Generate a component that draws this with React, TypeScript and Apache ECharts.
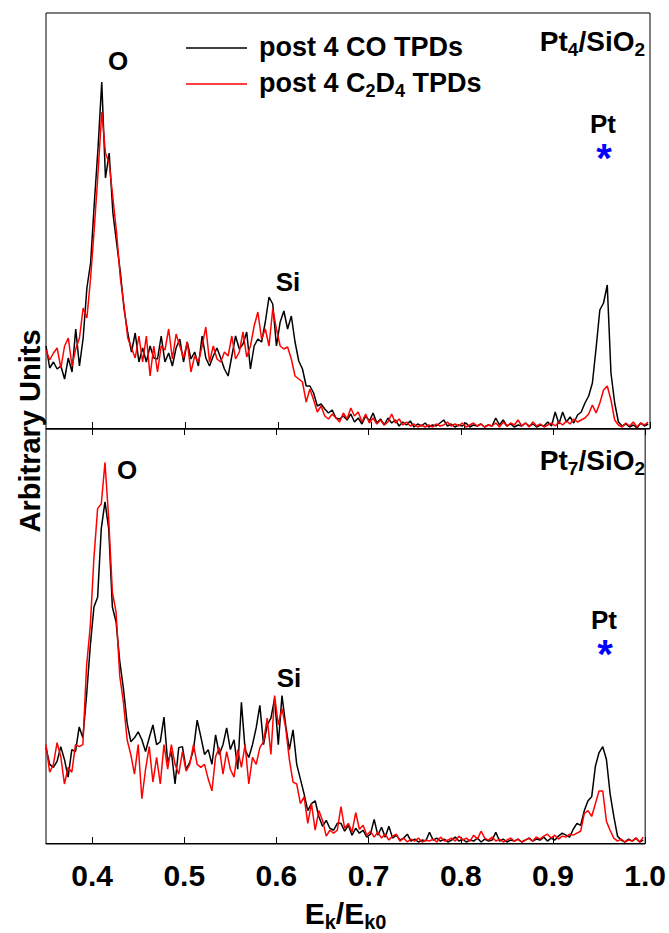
import React, { useEffect, useRef } from "react";
import * as echarts from "echarts";

const X_START = 0.35;
const X_STEP = 0.004;
const X_TICKS = [0.4, 0.5, 0.6, 0.7, 0.8, 0.9, 1.0];
const SERIES_NAMES = ["post 4 CO TPDs", "post 4 C2D4 TPDs"];

// Pt4/SiO2 panel (arbitrary units)
const topCO = [
  82,60,66,59,62,49,70,56,99,62,90,140,165,225,280,346,250,275,215,185,156,119,95,76,95,66,80,66,82,70,69,92,66,75,62,80,
  89,66,86,69,76,62,92,70,62,72,80,70,59,52,72,92,79,84,96,59,82,89,86,106,131,124,82,106,117,99,112,86,67,59,42,42,35,22,24,19,15,18,10,9,
  12,8,14,6,10,4,12,7,15,5,9,3,10,5,8,2,6,3,7,1,4,2,5,1,3,2,5,8,2,4,1,3,2,5,1,3,2,4,1,3,2,10,3,8,2,4,1,3,2,5,2,4,1,3,2,6,2,16,4,16,6,
  11,5,13,16,25,32,45,80,118,125,143,55,25,6,2,4,1,3,0,5,2,4,
];
const topC2D4 = [
  78,68,75,80,60,82,90,62,79,90,120,110,150,200,255,316,275,265,230,195,150,122,90,80,70,92,66,92,52,82,56,82,78,99,69,94,
  82,70,86,56,72,66,82,101,66,82,69,66,76,72,92,69,76,96,71,82,102,116,89,99,82,119,99,82,79,81,69,52,49,46,26,39,28,16,22,12,9,14,10,6,
  15,9,20,12,16,6,14,5,10,4,8,3,6,14,5,9,3,6,2,4,1,3,1,3,1,4,2,3,6,2,4,2,5,1,3,5,2,4,1,3,2,5,1,6,2,5,3,8,2,5,1,6,2,4,1,3,5,2,6,3,7,
  4,9,6,8,10,14,23,15,25,38,42,28,8,3,1,5,2,6,1,5,3,6,
];
// Pt7/SiO2 panel (arbitrary units)
const botCO = [
  97,80,77,83,98,85,67,95,93,118,107,150,200,240,250,320,347,320,240,225,185,157,122,103,107,113,105,93,107,120,100,103,128,82,93,60,
  97,98,75,82,95,125,108,90,95,80,110,90,100,117,95,105,75,143,95,87,100,117,140,100,120,127,147,100,150,120,95,115,80,65,50,33,40,43,27,17,23,15,13,20,
  20,12,18,8,15,10,13,6,9,24,8,16,6,17,5,8,3,5,9,2,4,1,3,2,11,3,5,2,4,1,3,6,2,4,1,3,2,5,1,4,2,3,11,2,4,1,3,2,4,1,3,5,2,4,3,6,2,5,3,7,10,
  8,6,14,20,18,33,43,47,78,92,98,85,50,27,7,3,1,4,2,5,1,3,
];
const botC2D4 = [
  100,72,80,102,88,60,77,72,100,98,100,180,220,290,340,345,387,330,255,235,170,143,105,90,70,100,45,75,98,62,87,60,100,75,100,80,
  70,93,73,80,100,80,77,80,65,53,88,97,70,93,75,67,95,77,100,60,87,80,97,103,127,90,150,120,137,117,85,62,60,40,47,20,40,13,33,23,7,13,10,13,
  37,15,20,11,31,14,18,8,12,6,11,5,9,3,7,9,2,5,1,4,2,5,1,3,2,4,1,6,2,3,5,2,7,3,5,2,8,4,12,5,3,6,2,4,1,3,5,2,4,1,3,5,2,6,4,7,9,5,8,4,7,
  6,9,8,10,12,30,33,27,40,53,53,22,13,5,2,4,1,3,2,5,1,6,
];

const FONT = '"Liberation Sans", Arial, Helvetica, sans-serif';

const toPairs = (vals: number[]) =>
  vals.map((v, i) => [Math.round((X_START + i * X_STEP) * 10000) / 10000, v]);

const richSub = (main: number, sub: number, pad: number) => ({
  m: { fontSize: main, fontWeight: "bold", fontFamily: FONT, fill: "#000", color: "#000" },
  s: { fontSize: sub, fontWeight: "bold", fontFamily: FONT, fill: "#000", color: "#000", padding: [pad, 0, 0, 0] },
});

const txt = (text: string, x: number, y: number, size = 26, color = "#000", lineHeight?: number) => ({
  type: "text",
  x,
  y,
  style: {
    text, fontSize: size, fontWeight: "bold", fontFamily: FONT, fill: color,
    align: "center", verticalAlign: "middle",
    ...(lineHeight ? { lineHeight } : {}),
  },
});

export default function App() {
  const ref = useRef<HTMLDivElement>(null);
  useEffect(() => {
    if (!ref.current) return;
    const chart = echarts.init(ref.current, undefined, { renderer: "svg" });
    const left = 46, right = 19;
    const g0Top = 13, g0H = 416, g1Top = 429, g1H = 422;

    const xBase = {
      type: "value",
      min: 0.35,
      max: 1.0,
      splitLine: { show: false },
      axisLine: { show: true, lineStyle: { color: "#000", width: 1 } },
      axisTick: { show: true, inside: true, length: 6, customValues: X_TICKS, lineStyle: { color: "#000", width: 1 } },
    };

    const yBase = {
      type: "value",
      axisLine: { show: false },
      axisTick: { show: false },
      axisLabel: { show: false },
      splitLine: { show: false },
    };

    const line = (name: string, vals: number[], idx: number, color: string) => ({
      name,
      type: "line",
      xAxisIndex: idx,
      yAxisIndex: idx,
      data: toPairs(vals),
      symbol: "none",
      showSymbol: false,
      lineStyle: { color, width: 1.5 },
      itemStyle: { color },
    });

    chart.setOption({
      animation: false,
      backgroundColor: "#fff",
      grid: [
        { left, right, top: g0Top, height: g0H, show: true, borderColor: "#000", borderWidth: 1 },
        { left, right, top: g1Top, height: g1H, show: true, borderColor: "#000", borderWidth: 1 },
      ],
      xAxis: [
        { ...xBase, gridIndex: 0, position: "bottom", axisLabel: { show: false } },
        {
          ...xBase,
          gridIndex: 1,
          position: "bottom",
          axisLabel: {
            show: true,
            customValues: X_TICKS,
            formatter: (v: number) => v.toFixed(1),
            fontSize: 30,
            fontWeight: "bold",
            fontFamily: FONT,
            color: "#000",
            margin: 16,
          },
          name: "{m|E}{s|k}{m|/E}{s|k0}",
          nameLocation: "middle",
          nameGap: 50,
          nameTextStyle: { rich: richSub(30, 20, 18) },
        },
        { ...xBase, gridIndex: 1, position: "top", axisLine: { show: false }, axisLabel: { show: false } },
      ],
      yAxis: [
        { ...yBase, gridIndex: 0, min: -1, max: 415 },
        { ...yBase, gridIndex: 1, min: -1, max: 421 },
      ],
      series: [
        line(SERIES_NAMES[0], topCO, 0, "#000000"),
        line(SERIES_NAMES[1], topC2D4, 0, "#ff0000"),
        line(SERIES_NAMES[0], botCO, 1, "#000000"),
        line(SERIES_NAMES[1], botC2D4, 1, "#ff0000"),
      ],
      graphic: [
        // legend
        { type: "line", shape: { x1: 186, y1: 48, x2: 247, y2: 48 }, style: { stroke: "#000", lineWidth: 1.5 } },
        { type: "line", shape: { x1: 186, y1: 84, x2: 247, y2: 84 }, style: { stroke: "#ff0000", lineWidth: 1.5 } },
        {
          type: "text", x: 259, y: 47,
          style: { text: "post 4 CO TPDs", fontSize: 27, fontWeight: "bold", fontFamily: FONT, fill: "#000", align: "left", verticalAlign: "middle" },
        },
        {
          type: "text", x: 259, y: 83,
          style: { text: "{m|post 4 C}{s|2}{m|D}{s|4}{m| TPDs}", rich: richSub(27, 18, 16), align: "left", verticalAlign: "middle" },
        },
        // panel titles
        {
          type: "text", x: 645, y: 41,
          style: { text: "{m|Pt}{s|4}{m|/SiO}{s|2}", rich: richSub(28, 19, 17), align: "right", verticalAlign: "middle" },
        },
        {
          type: "text", x: 645, y: 460,
          style: { text: "{m|Pt}{s|7}{m|/SiO}{s|2}", rich: richSub(28, 19, 17), align: "right", verticalAlign: "middle" },
        },
        // peak labels
        txt("O", 118, 61),
        txt("Si", 288, 282),
        txt("Pt", 603, 124, 26, "#000", 24),
        txt("*", 604, 158, 40, "#0000ff", 24),
        txt("O", 127, 470),
        txt("Si", 289, 678),
        txt("Pt", 604, 620, 26, "#000", 24),
        txt("*", 605, 654, 40, "#0000ff", 24),
        // y title
        {
          type: "text", x: 30, y: 431, rotation: Math.PI / 2,
          style: { text: "Arbitrary Units", fontSize: 29, fontWeight: "bold", fontFamily: FONT, fill: "#000", align: "center", verticalAlign: "middle" },
        },
      ],
    });
    return () => chart.dispose();
  }, []);
  return <div ref={ref} style={{ position: "absolute", left: 0, top: 0, width: 669, height: 933 }} />;
}
